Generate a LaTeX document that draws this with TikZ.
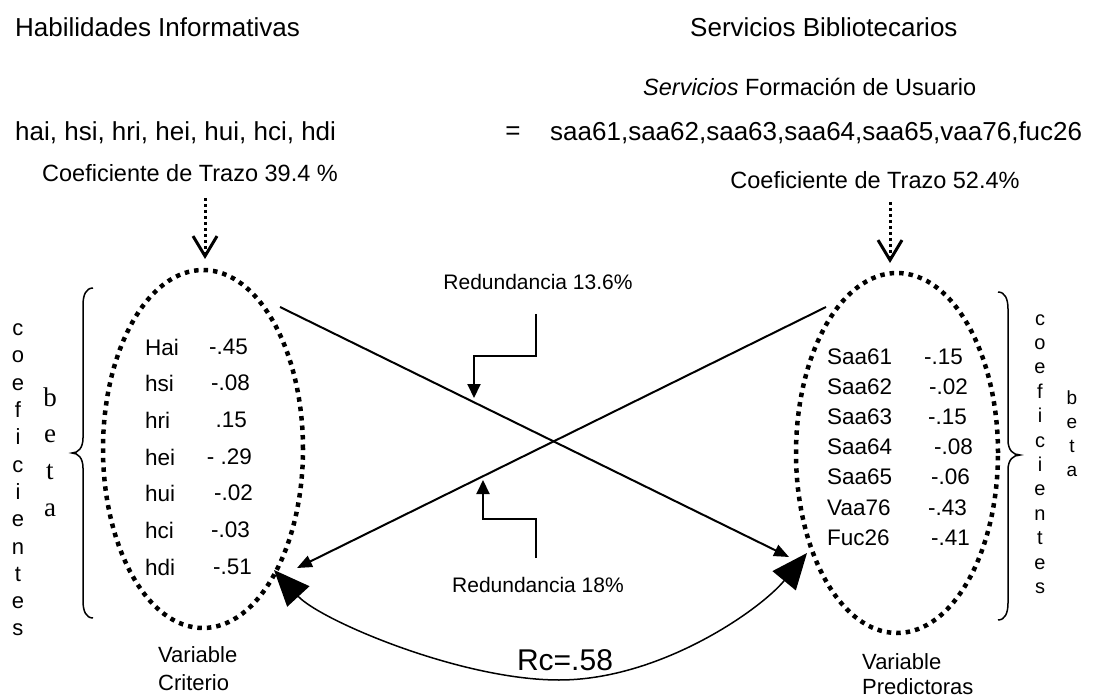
\documentclass[tikz,border=0pt]{standalone}
\usepackage{fontspec}
\setmainfont{Liberation Sans}
\newfontfamily\tnrfont{Liberation Serif}
\usetikzlibrary{arrows.meta,shapes.geometric}
\tikzset{
  ttl/.style={font=\fontsize{26}{31}\selectfont, inner sep=0pt},
  midtxt/.style={font=\fontsize{23.5}{28}\selectfont, inner sep=0pt},
  tabtxt/.style={font=\fontsize{22.5}{27}\selectfont, inner sep=0pt},
  redtxt/.style={font=\fontsize{21}{25}\selectfont, inner sep=0pt},
  dotell/.style={ellipse, draw, line width=4.5pt, dash pattern=on 4.5pt off 5pt, inner sep=0pt},
  dotarrow/.style={line width=3pt, dash pattern=on 3pt off 3pt, -{Straight Barb[length=20pt,width=24pt,line width=3pt]}},
  crossline/.style={line width=2pt, -{Triangle[length=15pt,width=12pt]}},
  bentarrow/.style={line width=2pt, -{Triangle[length=14pt,width=13pt]}},
  bracepath/.style={line width=1.5pt},
}
\begin{document}
\begin{tikzpicture}[x=1pt,y=-1pt]
\useasboundingbox (0,0) rectangle (1097,700);
\fill[white] (0,0) rectangle (1097,700);

% headings
\node[ttl, anchor=west] (hab) at (15,27) {Habilidades Informativas};
\node[ttl, anchor=west] (serv) at (690,27) {Servicios Bibliotecarios};
\node[midtxt, anchor=west] (form) at (643,87) {\textit{Servicios} Formación de Usuario};
\node[ttl, anchor=west] (hvars) at (15,133) {hai, hsi, hri, hei, hui, hci, hdi};
\node[ttl] (eq) at (513,133) {=};
\node[ttl, anchor=west] (svars) at (550,133) {saa61,saa62,saa63,saa64,saa65,vaa76,fuc26};
\node[midtxt] (coefL) at (190,173) {Coeficiente de Trazo 39.4 \%};
\node[midtxt] (coefR) at (875,180) {Coeficiente de Trazo 52.4\%};

% ellipses
\node[dotell, minimum width=200pt, minimum height=358pt] (E1) at (203,449) {};
\node[dotell, minimum width=202pt, minimum height=360pt] (E2) at (897,453) {};

% dotted arrows
\coordinate (t1a) at (205,198);
\coordinate (t1b) at (205,259);
\coordinate (t2a) at (890,202);
\coordinate (t2b) at (890,263);
\draw[dotarrow] (t1a) -- (t1b);
\draw[dotarrow] (t2a) -- (t2b);

% left table
\foreach \n/\v/\r/\y in {Hai/-.45/248/347, hsi/-.08/250/383, hri/.15/247/420, hei/- .29/252/457, hui/-.02/253/493, hci/-.03/250/530, hdi/-.51/252/567}{
  \node[tabtxt, anchor=west] (ln\n) at (145,\y) {\n};
  \node[tabtxt, anchor=east] (lv\n) at (\r,\y) {\v};
}
% right table
\foreach \n/\v/\r/\y in {Saa61/-.15/963/357, Saa62/-.02/968/387, Saa63/-.15/967/417, Saa64/-.08/973/447, Saa65/-.06/970/477, Vaa76/-.43/967/508, Fuc26/-.41/970/538}{
  \node[tabtxt, anchor=west] (rn\n) at (827,\y) {\n};
  \node[tabtxt, anchor=east] (rv\n) at (\r,\y) {\v};
}

% vertical words
\node[align=center, inner sep=0pt, font=\fontsize{22}{27.3}\selectfont] (coefvL) at (18,480) {c\\o\\e\\f\\i\\c\\i\\e\\n\\t\\e\\s};
\node[align=center, inner sep=0pt, font=\tnrfont\fontsize{27}{36.7}\selectfont] (betaL) at (50,452) {b\\e\\t\\a};
\node[align=center, inner sep=0pt, font=\fontsize{20}{24.4}\selectfont] (coefvR) at (1040,454) {c\\o\\e\\f\\i\\c\\i\\e\\n\\t\\e\\s};
\node[align=center, inner sep=0pt, font=\fontsize{19}{24}\selectfont] (betaR) at (1072,434) {b\\e\\t\\a};

% braces
\draw[bracepath] (93,288) .. controls (86,288) and (83,295) .. (83,305) -- (83,438) .. controls (83,448) and (78,453) .. (72,453) .. controls (78,453) and (83,458) .. (83,468) -- (83,601) .. controls (83,611) and (86,618) .. (93,618);
\draw[bracepath] (998,292) .. controls (1005,292) and (1008,299) .. (1008,309) -- (1008,440) .. controls (1008,450) and (1013,455) .. (1020,455) .. controls (1013,455) and (1008,460) .. (1008,470) -- (1008,603) .. controls (1008,613) and (1005,620) .. (998,620);

% crossing lines
\coordinate (x1a) at (280,307);
\coordinate (x1b) at (789,557);
\coordinate (x2a) at (826,307);
\coordinate (x2b) at (297,568);
\draw[crossline] (x1a) -- (x1b);
\draw[crossline] (x2a) -- (x2b);

% redundancy labels and bent arrows
\node[redtxt] (red1) at (538,282) {Redundancia 13.6\%};
\node[redtxt] (red2) at (538,585) {Redundancia 18\%};
\coordinate (b1a) at (536,314);
\coordinate (b1b) at (474,398);
\draw[bentarrow] (b1a) -- (536,356) -- (474,356) -- (b1b);
\coordinate (b2a) at (536,558);
\coordinate (b2b) at (483,480);
\draw[bentarrow] (b2a) -- (536,519) -- (483,519) -- (b2b);

% canonical correlation
\coordinate (rcL) at (274,570);
\coordinate (rcR) at (807,553);
\coordinate (rcM) at (559,680);
\draw[line width=1.5pt, {Triangle[length=36pt,width=30pt]}-{Triangle[length=36pt,width=30pt]}]
  (rcL) .. controls (320,620) and (460,680) .. (rcM) .. controls (660,680) and (760,610) .. (rcR);
\node[font=\fontsize{30}{36}\selectfont, inner sep=0pt] (rc) at (565,660) {Rc=.58};

% bottom labels
\node[midtxt, align=left, anchor=north west, font=\fontsize{22}{28}\selectfont] (varC) at (158,646) {Variable\\Criterio};
\node[midtxt, align=left, anchor=north west, font=\fontsize{22}{25}\selectfont] (varP) at (862,653) {Variable\\Predictoras};
\end{tikzpicture}
\end{document}
